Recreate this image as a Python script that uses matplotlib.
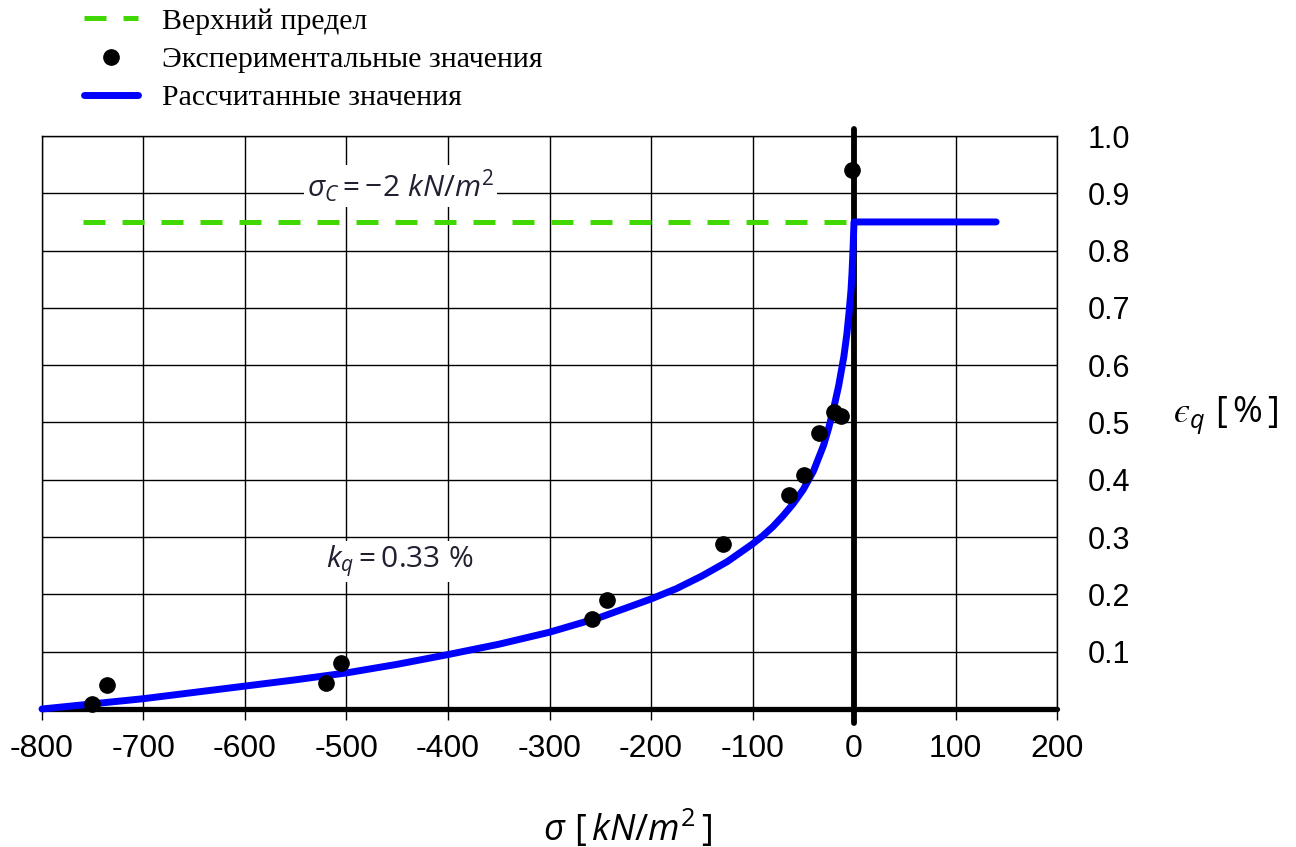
import numpy as np
import matplotlib.pyplot as plt
from matplotlib.lines import Line2D

plt.rcParams['axes.unicode_minus'] = False
plt.rcParams['mathtext.fontset'] = 'custom'
plt.rcParams['mathtext.rm'] = 'Open Sans'
plt.rcParams['mathtext.it'] = 'Open Sans:italic'

# experimental points (sigma in kN/m2, eps_q in %)
exp_sigma = [-751, -736, -520, -505, -258, -243, -129, -64, -49, -34, -20, -13, -2]
exp_eps = [0.009, 0.042, 0.045, 0.080, 0.157, 0.190, 0.288, 0.373, 0.408, 0.482, 0.518, 0.511, 0.94]

# calculated curve
calc_sigma = [-800, -750, -700, -650, -600, -550, -500, -450, -400, -350, -300, -250,
              -200, -175, -150, -125, -100, -90, -80, -70, -60, -50, -40, -30, -25,
              -20, -15, -10, -7, -5, -3, -2, -1, 0, 0, 140]
calc_eps = [0.0, 0.009, 0.018, 0.029, 0.040, 0.051, 0.063, 0.078, 0.095, 0.113, 0.134, 0.160,
            0.192, 0.210, 0.232, 0.257, 0.288, 0.302, 0.318, 0.337, 0.358, 0.383, 0.415, 0.46, 0.49,
            0.525, 0.565, 0.615, 0.655, 0.69, 0.73, 0.76, 0.80, 0.85, 0.85, 0.85]

# upper limit
limit_sigma = [-760, 0]
limit_eps = [0.85, 0.85]

xticks = [-800, -700, -600, -500, -400, -300, -200, -100, 0, 100, 200]
yticks = [0.1, 0.2, 0.3, 0.4, 0.5, 0.6, 0.7, 0.8, 0.9, 1.0]

green = '#40d800'
blue = '#0000ff'

fig = plt.figure(figsize=(12.96, 8.47), dpi=100)
ax = fig.add_axes([42/1296, 138/847, 1015/1296, 573/847])
ax.set_xlim(-800, 200)
ax.set_ylim(0, 1.0)

ax.set_xticks(xticks)
ax.set_xticklabels([str(v) for v in xticks])
ax.set_yticks(yticks)
ax.set_yticklabels(['%.1f' % v for v in yticks])
ax.yaxis.tick_right()
ax.tick_params(axis='y', length=0, pad=22, labelsize=22)
ax.tick_params(axis='x', length=8, width=1, pad=10, labelsize=23, direction='out')
for lab in ax.get_xticklabels() + ax.get_yticklabels():
    lab.set_fontfamily('Liberation Sans')

ax.grid(True, color='black', linewidth=1.0)
ax.set_axisbelow(True)
for s in ['top', 'left', 'right']:
    ax.spines[s].set_linewidth(1.0)
ax.spines['bottom'].set_linewidth(3.8)
ax.spines['bottom'].set_capstyle('round')

# sigma = 0 axis
ax.axvline(0, ymin=-0.025, ymax=1.012, color='black', linewidth=4.2,
           clip_on=False, zorder=3, solid_capstyle='round')

ax.plot(limit_sigma, limit_eps, color=green, linewidth=3.6, dashes=(4.4, 3.4), zorder=2)
ax.plot(calc_sigma, calc_eps, color=blue, linewidth=5, solid_capstyle='round',
        solid_joinstyle='round', zorder=4, clip_on=False)
ax.plot(exp_sigma, exp_eps, 'o', color='black', markersize=11, zorder=5, clip_on=False)

bb = dict(facecolor='white', edgecolor='none', pad=2)
ax.text(-447, 0.913, r'$\sigma_C = -2\ kN/m^2$', fontsize=21.5, ha='center', va='center',
        color='#202030', bbox=bb, zorder=3)
ax.text(-447, 0.258, r'$k_q = 0.33\ \%$', fontsize=21.5, ha='center', va='center',
        color='#202030', bbox=bb, zorder=3)

fig.text(628/1296, 1 - 828/847, r'$\sigma\ [\,kN/m^2\,]$', fontsize=26, ha='center', va='center')
fig.text(1226/1296, 1 - 415/847, r'$ϵ_q\ [\,\%\,]$', fontsize=26, ha='center', va='center')

handles = [Line2D([], [], color=green, linewidth=3.6, dashes=(4.4, 3.4)),
           Line2D([], [], linestyle='none', marker='o', color='black', markersize=11),
           Line2D([], [], color=blue, linewidth=5, solid_capstyle='round')]
labels = ['Верхний предел', 'Экспериментальные значения', 'Рассчитанные значения']
fig.legend(handles, labels, loc='upper left', bbox_to_anchor=(84/1296, 1 - 8/847),
           frameon=False, borderpad=0, borderaxespad=0, handlelength=1.8,
           handletextpad=0.8, labelspacing=0.38,
           prop={'family': 'Liberation Serif', 'size': 21.5})

fig.savefig('out.png', dpi=100)
